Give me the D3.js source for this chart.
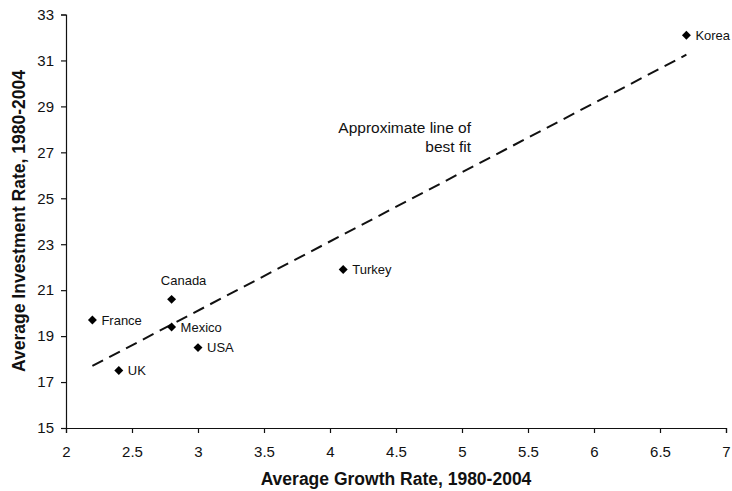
<!DOCTYPE html>
<html>
<head>
<meta charset="utf-8">
<script src="https://cdn.jsdelivr.net/npm/d3@7"></script>
<style>
  body { margin: 0; background: #fff; }
  svg text { font-family: "Liberation Sans", Arial, sans-serif; fill: #111; }
  .tick text { font-size: 15px; }
  .axis-title { font-size: 17.5px; font-weight: bold; }
  .pt-label { font-size: 13px; }
</style>
</head>
<body>
<div id="svg-container"></div>
<script>
// data
const countries = ["France", "Canada", "Mexico", "USA", "UK", "Turkey", "Korea"];
const growth = [2.2, 2.8, 2.8, 3.0, 2.4, 4.1, 6.7];
const investment = [19.7, 20.6, 19.4, 18.5, 17.5, 21.9, 32.1];
const fitX = [2.2, 6.7];
const fitY = [17.7, 31.25];
const xTicks = [2, 2.5, 3, 3.5, 4, 4.5, 5, 5.5, 6, 6.5, 7];
const yTicks = [15, 17, 19, 21, 23, 25, 27, 29, 31, 33];

const width = 732, height = 491;
const margin = { top: 14.5, right: 6, bottom: 63, left: 66 };

const svg = d3.select("#svg-container").append("svg")
  .attr("width", width).attr("height", height);

const xScale = d3.scaleLinear().domain([2, 7])
  .range([margin.left, width - margin.right]);
const yScale = d3.scaleLinear().domain([15, 33])
  .range([height - margin.bottom, margin.top]);

// axes
const xAxis = svg.append("g")
  .attr("transform", `translate(0, ${height - margin.bottom})`)
  .call(d3.axisBottom(xScale).tickValues(xTicks).tickSize(5).tickPadding(13)
    .tickFormat(d3.format("")));
const yAxis = svg.append("g")
  .attr("transform", `translate(${margin.left}, 0)`)
  .call(d3.axisLeft(yScale).tickValues(yTicks).tickSize(5).tickPadding(7));

[xAxis, yAxis].forEach((g) => {
  g.attr("font-family", null).attr("font-size", null);
  g.select(".domain").attr("stroke", "#111").attr("stroke-width", 1.2);
  g.selectAll(".tick line").attr("stroke", "#111").attr("stroke-width", 1.2);
});

// titles
svg.append("text").attr("class", "axis-title")
  .attr("x", 396).attr("y", 485)
  .attr("text-anchor", "middle")
  .text("Average Growth Rate, 1980-2004");

svg.append("text").attr("class", "axis-title")
  .attr("transform", `translate(25, 221) rotate(-90)`)
  .attr("text-anchor", "middle")
  .text("Average Investment Rate, 1980-2004");

// best fit line
svg.append("line")
  .attr("x1", xScale(fitX[0])).attr("y1", yScale(fitY[0]))
  .attr("x2", xScale(fitX[1])).attr("y2", yScale(fitY[1]))
  .attr("stroke", "#111")
  .attr("stroke-width", 2)
  .attr("stroke-dasharray", "12,7");

const note = svg.append("text")
  .attr("text-anchor", "end")
  .style("font-size", "15.5px");
note.append("tspan").attr("x", 471).attr("y", 133).text("Approximate line of");
note.append("tspan").attr("x", 471).attr("y", 152).text("best fit");

// points
const pts = countries.map((c, i) => ({ name: c, x: growth[i], y: investment[i] }));

svg.selectAll(".pt")
  .data(pts)
  .enter()
  .append("path")
  .attr("class", "pt")
  .attr("d", d3.symbol().type(d3.symbolSquare).size(40))
  .attr("transform", (d) => `translate(${xScale(d.x)}, ${yScale(d.y)}) rotate(45)`)
  .attr("fill", "#000");

svg.selectAll(".pt-name")
  .data(pts)
  .enter()
  .append("text")
  .attr("class", "pt-label")
  .attr("x", (d) => d.name === "Canada" ? xScale(d.x) + 12 : xScale(d.x) + 9)
  .attr("y", (d) => d.name === "Canada" ? yScale(d.y) - 14 : yScale(d.y) + 4.6)
  .attr("text-anchor", (d) => d.name === "Canada" ? "middle" : "start")
  .text((d) => d.name);
</script>
</body>
</html>
